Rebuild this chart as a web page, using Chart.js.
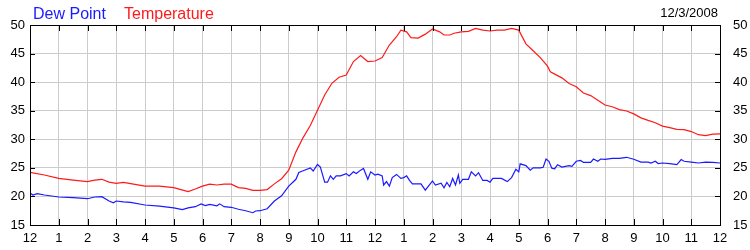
<!DOCTYPE html>
<html>
<head>
<meta charset="utf-8">
<script src="https://cdn.jsdelivr.net/npm/chart.js@4"></script>
<style>
  html, body { margin: 0; padding: 0; background: #fff; }
  #wrap { width: 750px; height: 250px; }
</style>
</head>
<body>
<div id="wrap"><canvas id="chart" width="750" height="250"></canvas></div>
<script>
// hours since midnight and readings (deg F)
const tempHours = [0, 0.5, 1, 1.5, 2, 2.25, 2.5, 2.75, 3, 3.25, 3.5, 4, 4.5, 5, 5.25, 5.5, 5.75, 6, 6.25, 6.5, 6.75, 7, 7.25, 7.5, 7.75, 8,
  8.25, 8.5, 8.75, 9, 9.25, 9.5, 9.75, 10, 10.25, 10.5, 10.75, 11, 11.25, 11.5, 11.75, 12, 12.25, 12.5, 12.75, 12.9, 13.1, 13.25, 13.5, 13.75,
  14, 14.25, 14.4, 14.6, 14.75, 15, 15.25, 15.5, 15.75, 16, 16.25, 16.5, 16.75, 17, 17.25, 17.5, 17.75, 18, 18.1, 18.25, 18.5, 18.75,
  19, 19.25, 19.5, 19.75, 20, 20.25, 20.5, 20.75, 21, 21.25, 21.5, 21.75, 22, 22.25, 22.5, 22.75, 23, 23.25, 23.5, 23.75, 24];
const tempValues = [24.2, 23.75, 23.15, 22.85, 22.6, 22.85, 23.0, 22.5, 22.3, 22.45, 22.25, 21.8, 21.8, 21.55, 21.2, 20.85, 21.3, 21.8, 22.15, 22.0, 22.15, 22.15, 21.55, 21.4, 21.05, 21.05,
  21.2, 22.2, 23.1, 24.6, 27.8, 30.3, 32.4, 35.1, 37.75, 39.8, 40.85, 41.25, 43.6, 44.65, 43.6, 43.7, 44.3, 46.5, 47.95, 49.1, 48.8, 47.8, 47.7, 48.4,
  49.3, 48.8, 48.25, 48.25, 48.55, 48.8, 48.9, 49.4, 49.1, 48.95, 49.1, 49.1, 49.4, 49.1, 46.7, 45.5, 44.3, 42.8, 41.8, 41.4, 40.75, 39.75,
  39.2, 38.1, 37.65, 36.85, 36.0, 35.7, 35.2, 34.95, 34.45, 33.75, 33.3, 32.9, 32.3, 32.05, 31.75, 31.7, 31.35, 30.8, 30.65, 30.9, 30.95];

const dewHours = [0, 0.1, 0.25, 0.5, 1, 1.5, 2, 2.25, 2.5, 2.75, 2.9, 3, 3.25, 3.5, 4, 4.5, 5, 5.3, 5.5, 5.75, 5.95, 6.1, 6.25, 6.5, 6.6, 6.75,
  7, 7.25, 7.5, 7.75, 7.85, 8, 8.25, 8.5, 8.75, 9, 9.25, 9.35, 9.5, 9.75, 9.85, 10, 10.1, 10.25, 10.35, 10.45, 10.55, 10.65, 10.8,
  11, 11.1, 11.25, 11.35, 11.5, 11.6, 11.75, 11.85, 12, 12.1, 12.25, 12.3, 12.4, 12.5, 12.6, 12.75, 12.9, 13, 13.1, 13.2, 13.3, 13.6, 13.75,
  14, 14.1, 14.3, 14.4, 14.5, 14.6, 14.7, 14.8, 14.9, 14.95, 15.05, 15.25, 15.35, 15.5, 15.6, 15.75, 15.9, 16, 16.1, 16.4, 16.6, 16.75, 16.9,
  17, 17.05, 17.25, 17.4, 17.5, 17.75, 17.85, 17.95, 18.05, 18.15, 18.25, 18.35, 18.5, 18.75, 18.85, 19, 19.15, 19.25, 19.5, 19.6, 19.75, 19.85,
  20, 20.25, 20.5, 20.75, 21, 21.25, 21.5, 21.6, 21.75, 21.85, 22, 22.25, 22.5, 22.65, 22.75, 23, 23.25, 23.5, 23.75, 24];
const dewValues = [20.6, 20.25, 20.5, 20.25, 19.9, 19.8, 19.6, 19.9, 19.95, 19.2, 18.9, 19.2, 19.05, 18.95, 18.5, 18.3, 18.0, 17.7, 18.0, 18.2, 18.7, 18.4, 18.6, 18.35, 18.7, 18.2,
  18.1, 17.75, 17.5, 17.15, 17.45, 17.5, 17.85, 19.2, 20.1, 21.8, 23.0, 24.2, 24.5, 25.0, 24.45, 25.6, 25.15, 22.5, 22.5, 23.6, 23.0, 23.6, 23.6,
  24.0, 23.6, 24.3, 24.0, 24.6, 24.9, 23.0, 24.3, 23.75, 23.9, 23.6, 22.0, 22.6, 21.8, 23.3, 23.85, 23.15, 23.3, 23.6, 22.8, 22.2, 22.2, 21.1,
  22.7, 22.0, 22.3, 21.5, 22.45, 21.7, 23.15, 22.0, 23.75, 22.3, 23.0, 23.0, 24.3, 23.6, 24.15, 22.8, 22.8, 22.5, 23.15, 23.15, 22.6, 23.3, 24.75,
  24.3, 25.7, 25.4, 24.6, 25.0, 25.0, 25.1, 26.55, 26.15, 24.95, 24.85, 25.55, 25.15, 25.4, 25.25, 26.15, 26.3, 25.95, 25.95, 26.55, 26.15, 26.55,
  26.5, 26.65, 26.65, 26.85, 26.5, 26.0, 26.0, 25.85, 26.15, 25.75, 25.85, 25.75, 25.55, 26.45, 26.15, 26.0, 25.85, 26.0, 25.95, 25.85];

const hourLabels = ["12", "1", "2", "3", "4", "5", "6", "7", "8", "9", "10", "11", "12",
  "1", "2", "3", "4", "5", "6", "7", "8", "9", "10", "11", "12"];
const yTicks = [15, 20, 25, 30, 35, 40, 45, 50];
const dateLabel = "12/3/2008";

const FONT = '"Liberation Sans", Arial, sans-serif';

function toPoints(xs, ys) {
  return xs.map((x, i) => ({ x: x, y: ys[i] }));
}

// frame, inward tick marks and header texts
const framePlugin = {
  id: "frame",
  afterDraw(chart) {
    const ctx = chart.ctx;
    const a = chart.chartArea;
    const xs = chart.scales.x;
    const yl = chart.scales.y;
    ctx.save();
    ctx.strokeStyle = "#000";
    ctx.lineWidth = 1;
    ctx.beginPath();
    hourLabels.forEach((_, h) => {
      const px = Math.round(xs.getPixelForValue(h)) + 0.5;
      ctx.moveTo(px, a.top); ctx.lineTo(px, a.top + 6);
      ctx.moveTo(px, a.bottom); ctx.lineTo(px, a.bottom - 6);
    });
    yTicks.forEach(v => {
      const py = Math.round(yl.getPixelForValue(v)) + 0.5;
      ctx.moveTo(a.left, py); ctx.lineTo(a.left + 5, py);
      ctx.moveTo(a.right, py); ctx.lineTo(a.right - 5, py);
    });
    ctx.stroke();
    ctx.strokeRect(Math.round(a.left) + 0.5, Math.round(a.top) + 0.5,
      Math.round(a.right - a.left), Math.round(a.bottom - a.top));

    ctx.font = "16px " + FONT;
    ctx.textBaseline = "alphabetic";
    ctx.textAlign = "left";
    ctx.fillStyle = "#1a1aff";
    ctx.fillText("Dew Point", 33, 19);
    ctx.fillStyle = "#ff1a1a";
    ctx.fillText("Temperature", 124, 19);
    ctx.font = "13px " + FONT;
    ctx.textAlign = "right";
    ctx.fillStyle = "#000";
    ctx.fillText(dateLabel, 718, 17);
    ctx.restore();
  }
};

const yCommon = {
  type: "linear",
  min: 15,
  max: 50,
  afterBuildTicks: s => { s.ticks = yTicks.map(v => ({ value: v })); },
  grid: { color: "#cccccc", drawTicks: false },
  border: { display: false },
  ticks: { color: "#000", font: { family: FONT, size: 13 }, padding: 5 },
};

new Chart(document.getElementById("chart"), {
  type: "line",
  data: {
    datasets: [
      {
        label: "Dew Point",
        data: toPoints(dewHours, dewValues),
        borderColor: "#1a1aff",
        borderWidth: 1.2,
        pointRadius: 0,
        tension: 0,
      },
      {
        label: "Temperature",
        data: toPoints(tempHours, tempValues),
        borderColor: "#ff1a1a",
        borderWidth: 1.2,
        pointRadius: 0,
        tension: 0,
      },
    ],
  },
  options: {
    responsive: false,
    animation: false,
    layout: { padding: { top: 25, left: 0, right: 0, bottom: 0 } },
    plugins: { legend: { display: false }, tooltip: { enabled: false } },
    scales: {
      x: {
        type: "linear",
        min: 0,
        max: 24,
        afterBuildTicks: s => { s.ticks = hourLabels.map((_, h) => ({ value: h })); },
        afterFit: s => { s.height = 25; },
        grid: { color: "#cccccc", drawTicks: false },
        border: { display: false },
        ticks: {
          color: "#000",
          font: { family: FONT, size: 13 },
          padding: 6,
          maxRotation: 0,
          autoSkip: false,
          callback: v => hourLabels[v],
        },
      },
      y: Object.assign({}, yCommon, {
        position: "left",
        afterFit: s => { s.width = 30; },
      }),
      y2: Object.assign({}, yCommon, {
        position: "right",
        grid: { display: false },
        afterFit: s => { s.width = 30; },
      }),
    },
  },
  plugins: [framePlugin],
});
</script>
</body>
</html>
